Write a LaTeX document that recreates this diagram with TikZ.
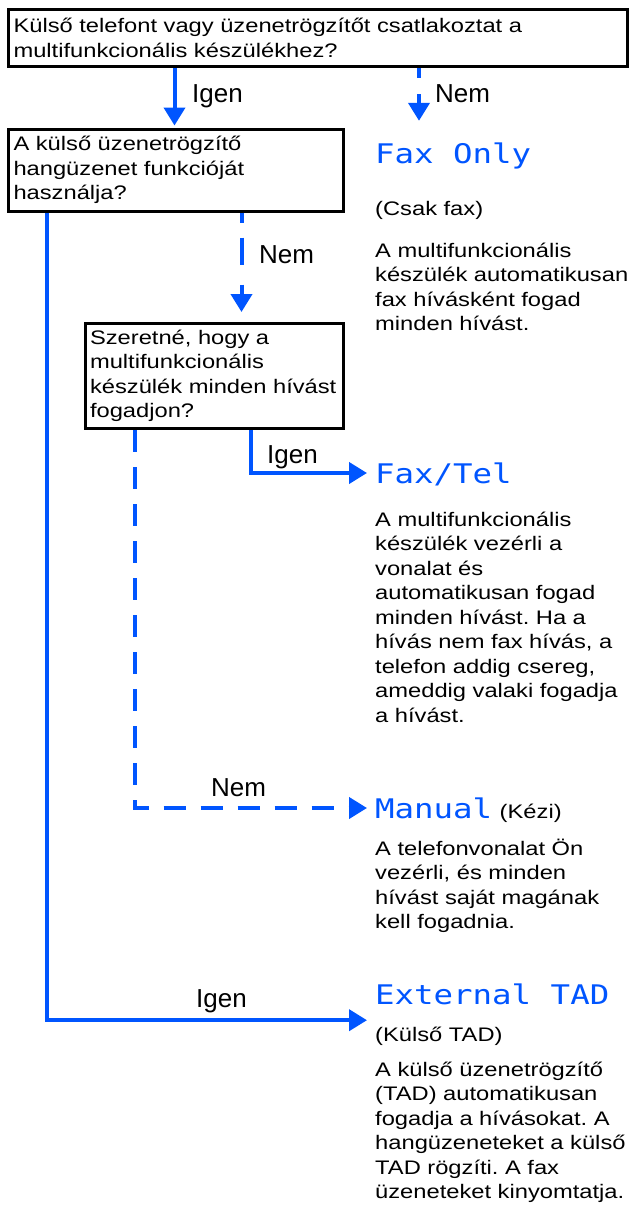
\documentclass[tikz,border=0pt]{standalone}
\usepackage{fontspec}
\setmainfont{Liberation Sans}
\newfontfamily\bodyfont[FakeStretch=1.21]{Liberation Sans}
\newfontfamily\lcdfont[FakeStretch=1.2]{DejaVu Sans Mono}
\usetikzlibrary{arrows.meta,positioning}
\definecolor{flowblue}{RGB}{0,85,255}
\newcommand\bodysize{\fontsize{19.6}{24.5}\selectfont}
\frenchspacing

\begin{document}
\begin{tikzpicture}[x=1pt,y=-1pt,
 qbox/.style={draw,line width=3pt,anchor=north west,inner xsep=5pt,inner ysep=0pt,align=left,font=\bodyfont\bodysize},
 mode/.style={anchor=base west,inner sep=0pt,text height=20pt,text depth=0pt,font=\lcdfont\fontsize{27}{30}\selectfont,text=flowblue},
 note/.style={anchor=base west,inner sep=0pt,align=left,text width=256pt,font=\bodyfont\bodysize},
 lbl/.style={anchor=base west,inner sep=0pt,font=\fontsize{26}{30}\selectfont},
 igenflow/.style={flowblue,line width=4pt,-{Triangle[width=21pt,length=18pt]}},
 nemflow/.style={igenflow,dash pattern=on 22pt off 15pt}]
\path[use as bounding box,fill=white] (0,0) rectangle (629,1205);
% questions
\node[qbox,text width=609pt,minimum height=57pt] (connect) at (7,8)
 {Külső telefont vagy üzenetrögzítőt csatlakoztat a\\multifunkcionális készülékhez?};
\node[qbox,text width=324.5pt,minimum height=82pt] (voiceq) at (7,127.5)
 {A külső üzenetrögzítő\\hangüzenet funkcióját\\használja?};
\node[qbox,text width=248pt,minimum height=105pt] (answerq) at (83.5,322)
 {Szeretné, hogy a\\multifunkcionális\\készülék minden hívást\\fogadjon?};
% modes
\node[mode] (faxonly) at (375,163) {Fax Only};
\node[note] (faxonlysub) at (375,215) {(Csak fax)};
\node[note] (faxonlytxt) at (375,257) {A multifunkcionális\\készülék automatikusan\\fax hívásként fogad\\minden hívást.};
\node[mode] (faxtel) at (375,483) {Fax/Tel};
\node[note] (faxteltxt) at (375,526) {A multifunkcionális\\készülék vezérli a\\vonalat és\\automatikusan fogad\\minden hívást. Ha a\\hívás nem fax hívás, a\\telefon addig csereg,\\ameddig valaki fogadja\\a hívást.};
\node[mode] (manual) at (375,818) {Manual\hspace{-12pt} {\bodyfont\bodysize\color{black}(Kézi)}};
\node[note] (manualtxt) at (375,855) {A telefonvonalat Ön\\vezérli, és minden\\hívást saját magának\\kell fogadnia.};
\node[mode] (exttad) at (375,1004) {External TAD};
\node[note] (exttadsub) at (375,1041) {(Külső TAD)};
\node[note] (exttadtxt) at (375,1076) {A külső üzenetrögzítő\\(TAD) automatikusan\\fogadja a hívásokat. A\\hangüzeneteket a külső\\TAD rögzíti. A fax\\üzeneteket kinyomtatja.};
% answers
\node[lbl] (y1) at (192,102) {Igen};
\node[lbl] (n1) at (435,102) {Nem};
\node[lbl] (n2) at (259,263) {Nem};
\node[lbl] (y2) at (267,463) {Igen};
\node[lbl] (n3) at (211,796) {Nem};
\node[lbl] (y3) at (196,1007) {Igen};
\draw[igenflow,shorten >=2pt] (174.5,0 |- connect.south) -- (174.5,0 |- voiceq.north);
\draw[nemflow,dash pattern=on 10pt off 16pt,shorten >=22pt] (419,0 |- connect.south) -- (419,0 |- faxonly.north);
\draw[nemflow,dash pattern=on 10pt off 15pt on 27pt off 20pt,shorten >=10pt] (241.5,0 |- voiceq.south) -- (241.5,0 |- answerq.north);
\draw[igenflow] (47,0 |- voiceq.south) |- ([shift={(-8pt,-16pt)}]exttad.south west);
\draw[igenflow] (251,0 |- answerq.south) |- ([xshift=-8pt]faxtel.west);
\draw[nemflow] (134.5,0 |- answerq.south) |- ([xshift=-8pt]manual.west);
\end{tikzpicture}
\end{document}
